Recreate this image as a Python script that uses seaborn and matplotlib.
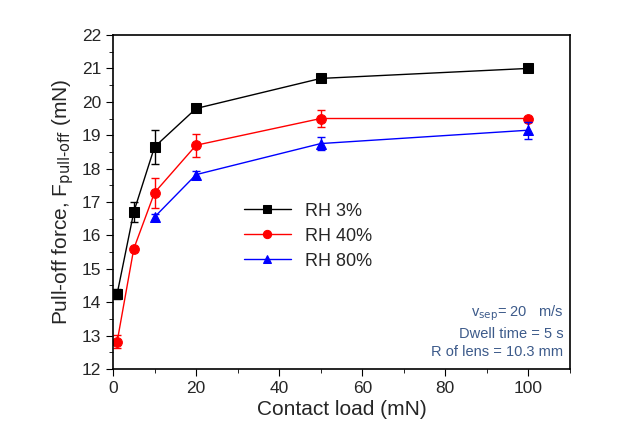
import numpy as np
import pandas as pd
import matplotlib
matplotlib.use('Agg')
import matplotlib.pyplot as plt
import seaborn as sns
from matplotlib.ticker import MultipleLocator

sns.set_style('ticks')
plt.rcParams['font.family'] = ['Liberation Sans', 'DejaVu Sans']

# data
load_3 = [1, 5, 10, 20, 50, 100]
force_3 = [14.25, 16.7, 18.65, 19.8, 20.7, 21.0]
err_3 = [0.15, 0.3, 0.5, 0.12, 0.12, 0.05]

load_40 = [1, 5, 10, 20, 50, 100]
force_40 = [12.82, 15.6, 17.28, 18.7, 19.5, 19.5]
err_40 = [0.2, 0.05, 0.45, 0.35, 0.25, 0.05]

load_80 = [10, 20, 50, 100]
force_80 = [16.55, 17.82, 18.75, 19.15]
err_80 = [0.1, 0.12, 0.2, 0.25]

series = [
    ('RH 3%', load_3, force_3, err_3, 'black', 's'),
    ('RH 40%', load_40, force_40, err_40, 'red', 'o'),
    ('RH 80%', load_80, force_80, err_80, 'blue', '^'),
]

fig = plt.figure(figsize=(6.25, 4.41), dpi=100)
ax = fig.add_axes([0.1808, 0.1633, 0.7312, 0.7573])

for name, x, y, e, c, m in series:
    df = pd.DataFrame({'load': x, 'force': y})
    sns.lineplot(data=df, x='load', y='force', ax=ax, color=c, marker=m,
                 markersize=7, markeredgecolor=c, linewidth=1, label=name)
    ax.errorbar(x, y, yerr=e, fmt='none', ecolor=c, elinewidth=1,
                capsize=3, capthick=1)

ax.set_xlim(0, 110)
ax.set_ylim(12, 22)
ax.xaxis.set_major_locator(MultipleLocator(20))
ax.xaxis.set_minor_locator(MultipleLocator(10))
ax.yaxis.set_major_locator(MultipleLocator(1))
ax.yaxis.set_minor_locator(MultipleLocator(0.5))
ax.tick_params(which='both', direction='out', labelsize=12.5, color='black')
ax.tick_params(which='major', length=5)
ax.tick_params(which='minor', length=3)
for s in ax.spines.values():
    s.set_linewidth(1.2)
    s.set_color('black')

ax.set_xlabel('Contact load (mN)', fontsize=15, labelpad=3)
ax.set_ylabel(r'Pull-off force, F$_{\mathrm{pull\text{-}off}}$ (mN)', fontsize=15, labelpad=4)

ax.legend(loc='upper left', bbox_to_anchor=(0.27, 0.52), frameon=False,
          fontsize=13, handlelength=2.6, labelspacing=0.45, borderaxespad=0,
          markerscale=0.85)

ax.text(0.985, 0.03, 'v$_{\\mathrm{sep}}$= 20   m/s\nDwell time = 5 s\nR of lens = 10.3 mm',
        transform=ax.transAxes, ha='right', va='bottom', fontsize=10.5,
        color='#3c5a8a', linespacing=1.35, multialignment='right')

fig.savefig('out.png', dpi=100)
